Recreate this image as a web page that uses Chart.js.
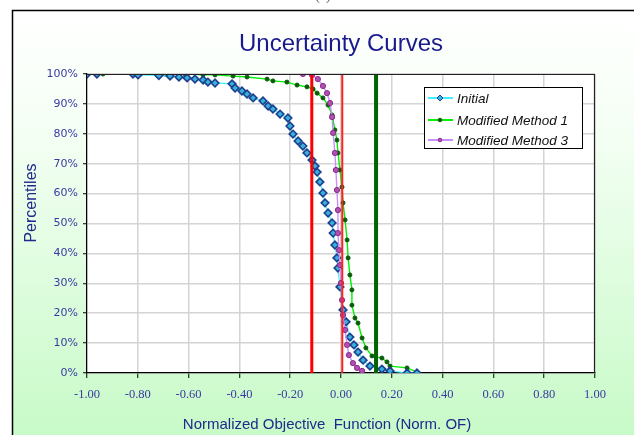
<!DOCTYPE html>
<html>
<head>
<meta charset="utf-8">
<script src="https://cdn.jsdelivr.net/npm/chart.js@4/dist/chart.umd.min.js"></script>
<style>
html,body{margin:0;padding:0;background:#fff;}
canvas{display:block;}
</style>
</head>
<body>
<canvas id="c" width="634" height="435"></canvas>
<script>
// ---- Data ----
const chartTitle = "Uncertainty Curves";
const xAxisTitle = "Normalized Objective  Function (Norm. OF)";
const yAxisTitle = "Percentiles";
const seriesNames = ["Initial", "Modified Method 1", "Modified Method 3"];

const initialX = [-1.000,-0.961,-0.819,-0.799,-0.717,-0.673,-0.638,-0.606,-0.575,-0.543,-0.524,-0.496,-0.429,-0.417,-0.390,-0.370,-0.346,-0.307,-0.287,-0.268,-0.240,-0.209,-0.201,-0.189,-0.169,-0.150,-0.134,-0.114,-0.102,-0.094,-0.083,-0.071,-0.063,-0.051,-0.035,-0.031,-0.024,-0.016,-0.012,-0.004,0.008,0.020,0.035,0.051,0.067,0.087,0.114,0.161,0.193,0.260,0.299];
const initialPct = [100,100,100,99.7,99.5,99.3,99.0,98.7,98.3,98.0,97.3,97.0,96.7,95.3,94.3,93.3,92.0,91.0,89.3,88.3,86.6,85.3,82.6,79.9,77.6,75.9,73.6,71.2,69.2,67.2,63.9,60.2,56.9,53.5,50.2,46.8,42.8,38.5,35.1,28.8,21.1,17.1,12.0,9.4,7.0,4.3,2.3,1.3,0.7,0.0,0.0];

const method1X = [-1.000,-0.937,-0.791,-0.693,-0.614,-0.543,-0.496,-0.425,-0.370,-0.291,-0.268,-0.213,-0.173,-0.134,-0.110,-0.094,-0.071,-0.051,-0.035,-0.024,-0.016,-0.012,-0.004,0.004,0.008,0.016,0.024,0.028,0.035,0.043,0.043,0.055,0.067,0.083,0.098,0.122,0.161,0.181,0.193,0.260,0.299];
const method1Pct = [100,100,100,100,100,99.7,99.7,99.3,99.0,98.3,97.7,97.3,96.3,95.7,95.0,93.6,92.0,89.6,86.3,81.3,77.9,73.6,67.9,62.2,56.9,51.2,44.5,38.5,32.8,27.8,22.7,18.4,16.7,11.7,8.4,5.7,5.0,3.7,2.3,1.7,0.3];

const method3X = [-0.150,-0.114,-0.091,-0.071,-0.055,-0.043,-0.035,-0.031,-0.024,-0.020,-0.016,-0.012,-0.012,-0.008,-0.004,0.000,0.004,0.008,0.016,0.024,0.031,0.047,0.063,0.083];
const method3Pct = [100,99.7,98.3,96.0,93.6,90.3,85.6,80.3,73.6,67.9,61.2,54.5,46.8,41.1,36.1,30.1,24.4,19.4,14.4,9.4,6.0,3.3,1.7,0.7];

// vertical reference lines (x positions)
const refLineX = [-0.115, 0.005, 0.138];

const xTicks = [-1.0,-0.8,-0.6,-0.4,-0.2,0.0,0.2,0.4,0.6,0.8,1.0];
const yTicks = [0,10,20,30,40,50,60,70,80,90,100];

// ---- Build datasets ----
const toPts = (xs, ps) => xs.map((x, i) => ({x: x, y: ps[i]}));
const refColors = ['#ff0000', '#ff2020', '#006400'];
const refWidths = [3, 2, 4];

const datasets = [
  {label: seriesNames[0], data: toPts(initialX, initialPct), showLine: true,
   borderColor: '#40f0ff', borderWidth: 1.2, pointStyle: 'rectRot', pointRadius: 3.8,
   pointBackgroundColor: '#38b0d8', pointBorderColor: '#1c3f90', pointBorderWidth: 1.6, order: 3},
  {label: seriesNames[1], data: toPts(method1X, method1Pct), showLine: true,
   borderColor: '#00f000', borderWidth: 1.4, pointStyle: 'circle', pointRadius: 2,
   pointBackgroundColor: '#0a5a0a', pointBorderColor: '#0a5a0a', pointBorderWidth: 1, order: 4},
  {label: seriesNames[2], data: toPts(method3X, method3Pct), showLine: true,
   borderColor: '#c890ff', borderWidth: 1.4, pointStyle: 'circle', pointRadius: 2.6,
   pointBackgroundColor: '#b050b0', pointBorderColor: '#8a2a8a', pointBorderWidth: 1, order: 2}
];
refLineX.forEach((v, i) => {
  datasets.push({label: 'ref' + i, data: [{x: v, y: 0}, {x: v, y: 100}], showLine: true,
    borderColor: refColors[i], borderWidth: refWidths[i], pointRadius: 0, order: 0});
});

const SERIES_FONT = 'italic 13.5px "Liberation Sans", Arial, sans-serif';

const framePlugin = {
  id: 'frame',
  beforeDraw(chart) {
    const ctx = chart.ctx, W = chart.width, H = chart.height, a = chart.chartArea;
    ctx.save();
    ctx.fillStyle = '#ffffff';
    ctx.fillRect(0, 0, W, H);
    const g = ctx.createLinearGradient(0, 10, 0, H);
    g.addColorStop(0, '#ffffff');
    g.addColorStop(0.25, '#f6fff6');
    g.addColorStop(1, '#c8fac8');
    ctx.fillStyle = g;
    ctx.fillRect(12, 10, W - 12, H - 10);
    ctx.strokeStyle = '#000';
    ctx.lineWidth = 1.5;
    ctx.beginPath();
    ctx.moveTo(12.5, H); ctx.lineTo(12.5, 10.5); ctx.lineTo(W, 10.5);
    ctx.stroke();
    ctx.fillStyle = '#ffffff';
    ctx.fillRect(a.left, a.top, a.right - a.left, a.bottom - a.top);
    // partial caption at very top
    ctx.fillStyle = '#666';
    ctx.font = '14px "Liberation Serif", serif';
    ctx.textAlign = 'center';
    ctx.fillText('(c)', 323, 0);
    // Title
    ctx.fillStyle = '#1a1a8c';
    ctx.font = '24px "Liberation Sans", Arial, sans-serif';
    ctx.textAlign = 'center';
    ctx.textBaseline = 'alphabetic';
    ctx.fillText(chartTitle, 341, 51);
    // axis titles
    ctx.font = '15px "Liberation Sans", Arial, sans-serif';
    ctx.fillStyle = '#1e2a8c';
    ctx.fillText(xAxisTitle, 327, 429);
    ctx.save();
    ctx.translate(36, 203);
    ctx.rotate(-Math.PI / 2);
    ctx.font = '16px "Liberation Sans", Arial, sans-serif';
    ctx.fillText(yAxisTitle, 0, 0);
    ctx.restore();
    ctx.restore();
  },
  afterDraw(chart) {
    const ctx = chart.ctx, a = chart.chartArea;
    ctx.save();
    // plot border (top/right)
    ctx.strokeStyle = '#222';
    ctx.lineWidth = 1.2;
    ctx.beginPath();
    ctx.moveTo(a.left, a.top + 0.5); ctx.lineTo(a.right - 0.5, a.top + 0.5); ctx.lineTo(a.right - 0.5, a.bottom);
    ctx.stroke();
    // legend
    const lx = 424, ly = 87, lw = 158, lh = 61;
    ctx.fillStyle = '#fff';
    ctx.fillRect(lx, ly, lw, lh);
    ctx.strokeStyle = '#000';
    ctx.lineWidth = 1;
    ctx.strokeRect(lx + 0.5, ly + 0.5, lw, lh);
    const rows = [98, 120, 140];
    ctx.font = SERIES_FONT;
    ctx.textBaseline = 'middle';
    ctx.textAlign = 'left';
    for (let i = 0; i < 3; i++) {
      const ds = chart.data.datasets[i];
      const y = rows[i];
      ctx.strokeStyle = ds.borderColor;
      ctx.lineWidth = 2;
      ctx.beginPath(); ctx.moveTo(428, y); ctx.lineTo(453, y); ctx.stroke();
      ctx.fillStyle = ds.pointBackgroundColor;
      ctx.strokeStyle = ds.pointBorderColor;
      ctx.lineWidth = 1;
      ctx.beginPath();
      if (i === 0) {
        ctx.moveTo(440, y - 3); ctx.lineTo(443, y); ctx.lineTo(440, y + 3); ctx.lineTo(437, y); ctx.closePath();
      } else {
        ctx.arc(440, y, 1.8, 0, Math.PI * 2);
      }
      ctx.fill(); ctx.stroke();
      ctx.fillStyle = '#111';
      ctx.fillText(ds.label, 457, y + 1);
    }
    ctx.restore();
  }
};

new Chart(document.getElementById('c'), {
  type: 'scatter',
  data: {datasets: datasets},
  options: {
    responsive: false,
    animation: false,
    layout: {padding: {left: 0, top: 74, right: 39, bottom: 0}},
    plugins: {legend: {display: false}, tooltip: {enabled: false}, title: {display: false}},
    scales: {
      x: {
        type: 'linear', min: -1, max: 1,
        afterBuildTicks: s => { s.ticks = xTicks.map(v => ({value: v})); },
        afterFit: s => { s.height = 62; },
        ticks: {
          callback: v => (Math.abs(v) < 1e-9 ? 0 : v).toFixed(2),
          color: '#3a3aa0', padding: 9, maxRotation: 0, autoSkip: false,
          font: {family: '"Liberation Serif", "Times New Roman", serif', size: 12.5}
        },
        grid: {color: '#d4d4d4', lineWidth: 1.5, tickColor: '#000', tickLength: 5, tickWidth: 1},
        border: {display: true, color: '#000', width: 1.2}
      },
      y: {
        type: 'linear', min: 0, max: 100,
        afterBuildTicks: s => { s.ticks = yTicks.map(v => ({value: v})); },
        afterFit: s => { s.width = 87; },
        ticks: {
          callback: v => v + '%',
          color: '#3a3aa0', padding: 5, autoSkip: false,
          font: {family: '"DejaVu Sans", Verdana, sans-serif', size: 11}
        },
        grid: {color: '#d4d4d4', lineWidth: 1.5, tickColor: '#000', tickLength: 4, tickWidth: 1},
        border: {display: true, color: '#000', width: 1.2}
      }
    }
  },
  plugins: [framePlugin]
});
</script>
</body>
</html>
